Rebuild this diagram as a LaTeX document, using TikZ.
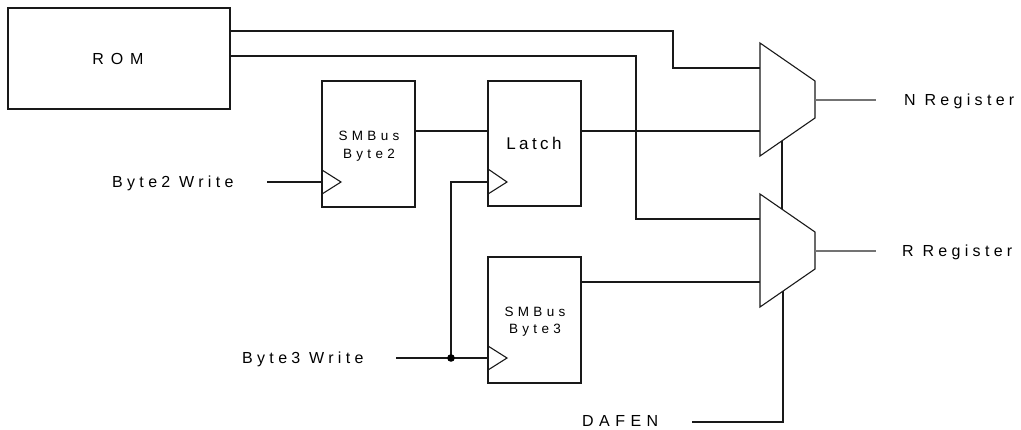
\documentclass[tikz,border=0pt]{standalone}
\usepackage{fontspec}
\setmainfont{Liberation Sans}
\newfontfamily\labfont[LetterSpace=27]{Liberation Sans}
\newfontfamily\romfont[LetterSpace=43]{Liberation Sans}
\newfontfamily\dafont[LetterSpace=34]{Liberation Sans}
\newfontfamily\boxfont[LetterSpace=32]{Liberation Sans}
\newfontfamily\latchfont[LetterSpace=20]{Liberation Sans}
\begin{document}
\begin{tikzpicture}[x=1pt,y=-1pt,
  wire/.style={draw=black!90,line width=1.1pt},
  outwire/.style={draw=black!55,line width=1.1pt},
  blk/.style={draw=black!90,line width=1.1pt},
  lab/.style={inner sep=0pt,anchor=base west,font=\labfont\fontsize{16}{19}\selectfont},
  boxtxt/.style={inner sep=0pt,anchor=base,font=\boxfont\fontsize{13.5}{16}\selectfont}]
\useasboundingbox (0,0) rectangle (1021,429);
% blocks
\node[blk,minimum width=222pt,minimum height=101pt,inner sep=0pt] (rom) at (119,58.5) {};
\node[blk,minimum width=93pt,minimum height=126pt,inner sep=0pt] (b2) at (368.5,144) {};
\node[blk,minimum width=93pt,minimum height=125pt,inner sep=0pt] (latch) at (534.5,143.5) {};
\node[blk,minimum width=93pt,minimum height=126pt,inner sep=0pt] (b3) at (534.5,320) {};
% block texts
\node[inner sep=0pt,anchor=base,font=\romfont\fontsize{16}{19}\selectfont] (romt) at (118,64) {ROM};
\node[boxtxt] (b2t1) at (369,140.7) {SMBus};
\node[boxtxt] (b2t2) at (369,158.3) {Byte2};
\node[inner sep=0pt,anchor=base,font=\latchfont\fontsize{17}{20}\selectfont] (latcht) at (534,149.3) {Latch};
\node[boxtxt] (b3t1) at (535,316) {SMBus};
\node[boxtxt] (b3t2) at (535,333) {Byte3};
% clock triangles
\draw[blk] (322,170) -- (341,182) coordinate (b2clk) -- (322,194);
\draw[blk] (488,169) -- (507,182) coordinate (lclk) -- (488,194);
\draw[blk] (488,346) -- (507,358) coordinate (b3clk) -- (488,370);
\coordinate (b2ck) at (322,182);
\coordinate (lck) at (488,182);
\coordinate (b3ck) at (488,358);
% muxes
\coordinate (m1a) at (760,43); \coordinate (m1b) at (815,81);
\coordinate (m1c) at (815,118); \coordinate (m1d) at (760,156);
\coordinate (m2a) at (760,194); \coordinate (m2b) at (815,232);
\coordinate (m2c) at (815,269); \coordinate (m2d) at (760,307);
\draw[blk] (m1a) -- (m1b) -- (m1c) -- (m1d) -- cycle;
\draw[blk] (m2a) -- (m2b) -- (m2c) -- (m2d) -- cycle;
\coordinate (m1in1) at (760,68); \coordinate (m1in2) at (760,131);
\coordinate (m2in1) at (760,219); \coordinate (m2in2) at (760,282);
\coordinate (m1out) at (815,100); \coordinate (m2out) at (815,251);
\coordinate (m1sel) at (782,140.8); \coordinate (m2top) at (782,209.2);
\coordinate (m2sel) at (783,291);
% labels
\node[lab] (b2w) at (112,187.7) {Byte2 Write};
\node[lab] (b3w) at (242,363.3) {Byte3 Write};
\node[lab] (nreg) at (904,105.3) {N Register};
\node[lab] (rreg) at (902,256.8) {R Register};
\node[inner sep=0pt,anchor=base west,font=\dafont\fontsize{16}{19}\selectfont] (dafen) at (582,426.7) {DAFEN};
% label line ends
\coordinate (b2wend) at (267,182);
\coordinate (b3wend) at (396,358);
\coordinate (nend) at (876,100);
\coordinate (rend) at (876,251);
\coordinate (daend) at (692,422);
% wires
\draw[wire] (rom.east |- 0,31) -| (673,68) -- (m1in1);
\draw[wire] (rom.east |- 0,56) -| (636,219) -- (m2in1);
\draw[wire] (b2.east |- 0,131) -- (latch.west |- 0,131);
\draw[wire] (latch.east |- 0,131) -- (m1in2);
\draw[wire] (b3.east |- 0,282) -- (m2in2);
\draw[outwire] (m1out) -- (nend);
\draw[outwire] (m2out) -- (rend);
\draw[wire] (b2wend) -- (b2ck);
\draw[wire] (b3wend) -- (b3ck);
\coordinate (jn) at (451,358);
\draw[wire] (jn) |- (lck);
\fill[black] (jn) circle (3.8);
\draw[wire] (m1sel) -- (m2top);
\draw[wire] (daend) -| (m2sel);
\end{tikzpicture}
\end{document}
